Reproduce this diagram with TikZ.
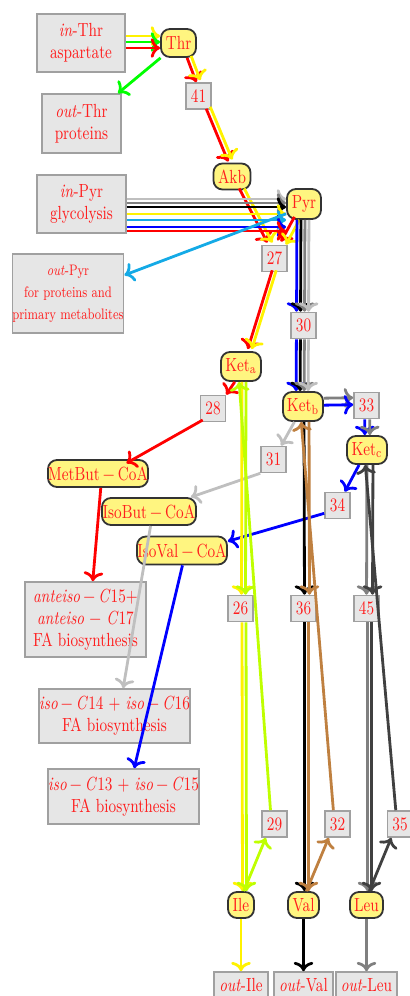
\documentclass[tikz,border=0pt]{standalone}
\usepackage{fontspec}
\setmainfont{Latin Modern Roman}[FakeStretch=0.78]
\usetikzlibrary{arrows.meta}
\definecolor{skyb}{RGB}{20,170,230}
\definecolor{boxfill}{RGB}{230,230,230}
\definecolor{boxline}{RGB}{160,160,160}
\definecolor{nodefill}{RGB}{255,245,128}
\definecolor{txt}{RGB}{255,30,30}
\begin{document}
\begin{tikzpicture}[x=0.5pt,y=-0.5pt,
  gbox/.style={draw=boxline, fill=boxfill, line width=0.8pt, text=txt, align=center, inner sep=0pt, font=\fontsize{9.5}{11}\selectfont},
  nbox/.style={gbox, minimum width=12.5pt, minimum height=13pt},
  ybox/.style={draw=black!80, fill=nodefill, line width=0.9pt, rounded corners=4.5pt, text=txt, inner sep=0pt, minimum height=14pt, font=\fontsize{9.5}{11}\selectfont},
  con/.style={->, line width=1.4pt},
  sh/.style 2 args={transform canvas={xshift={(#1)*0.5pt}, yshift={-(#2)*0.5pt}}},
]
\useasboundingbox (0,0) rectangle (409,996);
% gray boxes
\node[gbox, minimum width=44pt, minimum height=29pt] (inThr) at (81,43) {\textit{in}-Thr\\aspartate};
\node[gbox, minimum width=39.5pt, minimum height=29.5pt] (outThr) at (81.5,123.5) {\textit{out}-Thr\\proteins};
\node[gbox, minimum width=44.5pt, minimum height=29pt] (inPyr) at (81.5,204) {\textit{in}-Pyr\\glycolysis};
\node[gbox, minimum width=55pt, minimum height=39.5pt, font=\fontsize{7.6}{11}\selectfont] (outPyr) at (68,293.5) {\textit{out}-Pyr\\for proteins and\\primary metabolites};
\node[gbox, minimum width=60.5pt, minimum height=37.5pt] (ante) at (85.5,619.5) {\textit{anteiso}\,−\,\textit{C}15+\\\textit{anteiso} − \textit{C}17\\FA biosynthesis};
\node[gbox, minimum width=74.5pt, minimum height=27pt] (isoA) at (114.5,716) {\textit{iso}\,−\,\textit{C}14 + \textit{iso}\,−\,\textit{C}16\\FA biosynthesis};
\node[gbox, minimum width=74.5pt, minimum height=27.5pt] (isoB) at (123.5,796.5) {\textit{iso}\,−\,\textit{C}13 + \textit{iso}\,−\,\textit{C}15\\FA biosynthesis};
\node[gbox, minimum width=27pt, minimum height=13pt] (outIle) at (241,985) {\textit{out}-Ile};
\node[gbox, minimum width=29.5pt, minimum height=13pt] (outVal) at (303.5,985) {\textit{out}-Val};
\node[gbox, minimum width=30.5pt, minimum height=13pt] (outLeu) at (366.5,985) {\textit{out}-Leu};
% number boxes
\node[nbox] (n41) at (198.5,96) {41};
\node[nbox] (n27) at (274.5,258.5) {27};
\node[nbox] (n30) at (303.5,325.5) {30};
\node[nbox] (n28) at (213,408.5) {28};
\node[nbox] (n33) at (366.5,405.5) {33};
\node[nbox] (n31) at (273.5,459.5) {31};
\node[nbox] (n34) at (337.5,505.5) {34};
\node[nbox] (n26) at (240.5,608.5) {26};
\node[nbox] (n36) at (303.5,608.5) {36};
\node[nbox] (n45) at (366.5,608.5) {45};
\node[nbox] (n29) at (274.5,824) {29};
\node[nbox] (n32) at (337.5,824) {32};
\node[nbox] (n35) at (400,824) {35};
% metabolite nodes
\node[ybox, minimum width=17.5pt] (Thr) at (178.5,43) {Thr};
\node[ybox, minimum width=18.5pt, minimum height=13pt] (Akb) at (232,176.5) {Akb};
\node[ybox, minimum width=17pt, minimum height=15pt] (Pyr) at (304,204) {Pyr};
\node[ybox, minimum width=20pt, minimum height=14.5pt] (Keta) at (241,366.5) {Ket\textsubscript{a}};
\node[ybox, minimum width=20pt, minimum height=14.5pt] (Ketb) at (303,406.5) {Ket\textsubscript{b}};
\node[ybox, minimum width=20pt] (Ketc) at (367,450) {Ket\textsubscript{c}};
\node[ybox, minimum width=50pt, minimum height=13.5pt] (MetBut) at (98,473.5) {MetBut\,−\,CoA};
\node[ybox, minimum width=47pt, minimum height=13.5pt] (IsoBut) at (149,511.5) {IsoBut\,−\,CoA};
\node[ybox, minimum width=45pt] (IsoVal) at (182,550.5) {IsoVal\,−\,CoA};
\node[ybox, minimum width=13pt, minimum height=13pt] (Ile) at (241,905) {Ile};
\node[ybox, minimum width=15.5pt, minimum height=13pt] (Val) at (303.5,905) {Val};
\node[ybox, minimum width=16.5pt, minimum height=13pt] (Leu) at (366.5,905) {Leu};
% Thr
\draw[con,yellow,sh={0}{-7}] (inThr) -- (Thr);
\draw[con,green,sh={0}{-1}] (inThr) -- (Thr);
\draw[con,red,sh={0}{5}] (inThr) -- (Thr);
\draw[con,green] (Thr) -- (outThr);
\draw[con,red,sh={3}{0}] (Thr) -- (n41);
\draw[con,yellow,sh={7}{-2}] (Thr) -- (n41);
\draw[con,red,sh={2}{-1}] (n41) -- (Akb);
\draw[con,yellow,sh={6}{-3}] (n41) -- (Akb);
\draw[con,red,sh={0}{-2}] (Akb) -- (n27);
\draw[con,yellow,sh={5}{-2}] (Akb) -- (n27);
% Pyr
\draw[con,lightgray,sh={0}{-5}] (inPyr) -- (Pyr);
\draw[con,gray,sh={0}{-1}] (inPyr) -- (Pyr);
\draw[con,black,sh={0}{3}] (inPyr) -- (Pyr);
\draw[con,yellow,sh={0}{10}] (inPyr) -- (Pyr);
\draw[con,skyb,sh={0}{16}] (inPyr) -- (Pyr);
\draw[con,blue,sh={0}{23}] (inPyr) -- (Pyr);
\draw[con,red,sh={0}{27}] (inPyr) -- (Pyr);
\draw[con,red,sh={-1}{-3}] (Pyr) -- (n27);
\draw[con,yellow,sh={4}{0}] (Pyr) -- (n27);
\draw[con,skyb,sh={0}{3}] (Pyr) -- (outPyr);
\draw[con,blue,sh={-7}{0}] (Pyr) -- (n30);
\draw[con,black,sh={-3}{0}] (Pyr) -- (n30);
\draw[con,gray,sh={1}{0}] (Pyr) -- (n30);
\draw[con,lightgray,sh={5}{0}] (Pyr) -- (n30);
\draw[con,blue,sh={-7}{0}] (n30) -- (Ketb);
\draw[con,black,sh={-3}{0}] (n30) -- (Ketb);
\draw[con,gray,sh={1}{0}] (n30) -- (Ketb);
\draw[con,lightgray,sh={5}{0}] (n30) -- (Ketb);
% Ket b / c
\draw[con,gray,sh={0}{-8}] (Ketb) -- (n33);
\draw[con,blue,sh={0}{-1}] (Ketb) -- (n33);
\draw[con,blue,sh={-2}{0}] (n33) -- (Ketc);
\draw[con,gray,sh={3}{0}] (n33) -- (Ketc);
\draw[con,lightgray] (Ketb) -- (n31);
\draw[con,lightgray] (n31.south west) -- (IsoBut);
\draw[con,blue] (Ketc) -- (n34);
\draw[con,blue,sh={0}{4}] (n34) -- (IsoVal);
% Ket a
\draw[con,red,sh={2}{-2}] (n27) -- (Keta);
\draw[con,yellow,sh={6}{-2}] (n27) -- (Keta);
\draw[con,red,sh={4}{0}] (Keta) -- (n28);
\draw[con,red,sh={3}{4}] (n28) -- (MetBut);
% FA
\draw[con,red,sh={4}{0}] (MetBut) -- (ante);
\draw[con,lightgray,sh={4}{0}] (IsoBut) -- (isoA);
\draw[con,blue,sh={4}{0}] (IsoVal) -- (isoB);
% Ile
\draw[con,yellow,sh={1}{0}] (Keta) -- (n26);
\draw[con,lime,sh={5}{0}] (Keta) -- (n26);
\draw[con,yellow,sh={1.5}{0}] (n26) -- (Ile);
\draw[con,lime,sh={5.5}{0}] (n26) -- (Ile);
\draw[con,lime,sh={-3}{0}] (Ile) -- (n29);
\draw[con,lime,sh={-3}{0}] (n29) -- (Keta);
% Val
\draw[con,black,sh={1}{0}] (Ketb) -- (n36);
\draw[con,brown,sh={6}{0}] (Ketb) -- (n36);
\draw[con,black,sh={1}{0}] (n36) -- (Val);
\draw[con,brown,sh={5}{0}] (n36) -- (Val);
\draw[con,brown,sh={-3}{0}] (Val) -- (n32);
\draw[con,brown,sh={-3}{0}] (n32) -- (Ketb);
% Leu
\draw[con,gray,sh={0}{0}] (Ketc) -- (n45);
\draw[con,darkgray,sh={6}{0}] (Ketc) -- (n45);
\draw[con,gray,sh={1}{0}] (n45) -- (Leu);
\draw[con,darkgray,sh={5}{0}] (n45) -- (Leu);
\draw[con,darkgray,sh={-3}{0}] (Leu) -- (n35);
\draw[con,darkgray,sh={-3}{0}] (n35) -- (Ketc);
% outputs
\draw[con,yellow] (Ile) -- (outIle);
\draw[con,black] (Val) -- (outVal);
\draw[con,gray] (Leu) -- (outLeu);
\end{tikzpicture}
\end{document}
